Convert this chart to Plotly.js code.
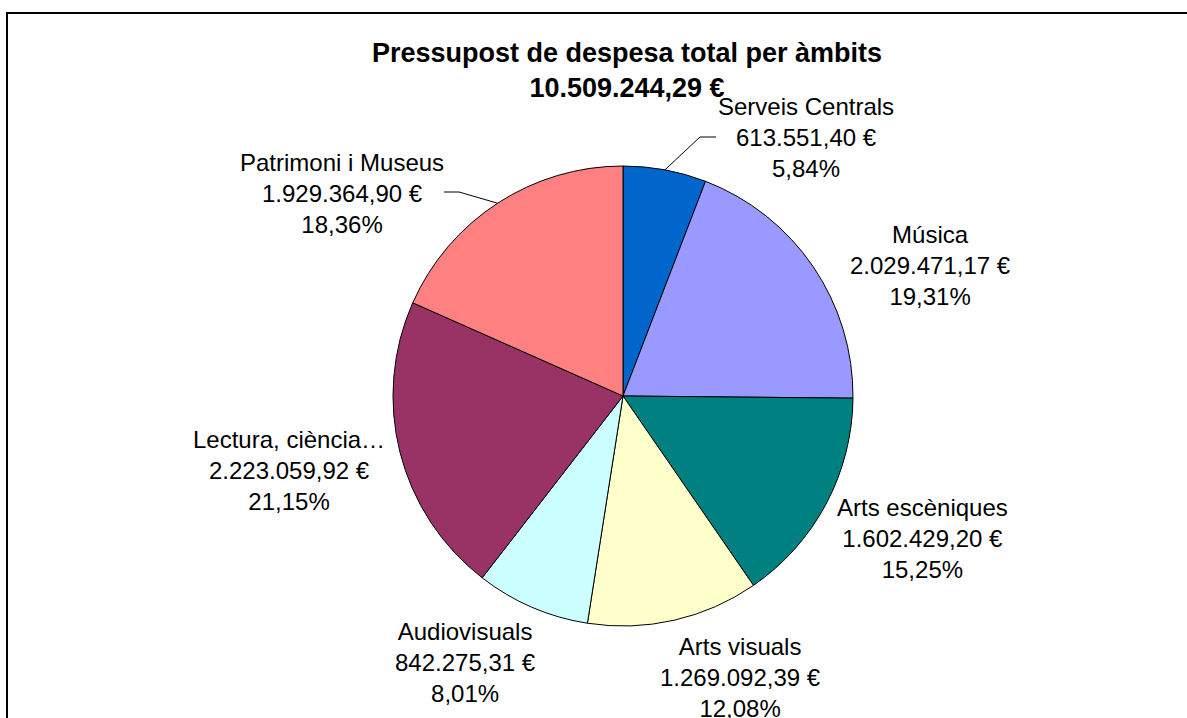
<!DOCTYPE html>
<html>
<head>
<meta charset="utf-8">
<script src="https://cdn.plot.ly/plotly-3.0.1.min.js"></script>
<style>html,body{margin:0;padding:0;background:#fff;}#chart{width:1187px;height:718px;}</style>
</head>
<body>
<div id="chart"></div>
<script>
// ---- data ----
const categories = ["Serveis Centrals", "Música", "Arts escèniques", "Arts visuals", "Audiovisuals", "Lectura, ciència…", "Patrimoni i Museus"];
const values = [613551.40, 2029471.17, 1602429.20, 1269092.39, 842275.31, 2223059.92, 1929364.90];
const colors = ["#0066CC", "#9999FF", "#008080", "#FFFFCC", "#CCFFFF", "#993366", "#FF8080"];
const chartTitle = "Pressupost de despesa total per àmbits";

// ---- layout config (pixels) ----
const W = 1187, H = 718;
const pieCenter = [623, 396], pieR = 230;
// label centre (middle line) positions
const labelPos = [[806, 137], [930, 266], [922, 538], [740, 677], [465, 662], [289, 470], [342, 194]];
// leader lines: index -> [elbow, end]
const leaders = {0: [[700, 137], [716, 137]], 6: [[459, 192], [444, 192]]};

const total = values.reduce((a, b) => a + b, 0);
function fmt(v, dec) {
  const s = v.toFixed(dec);
  let [ip, dp] = s.split('.');
  ip = ip.replace(/\B(?=(\d{3})+(?!\d))/g, '.');
  return dp !== undefined ? ip + ',' + dp : ip;
}
const px = x => x / W, py = y => 1 - y / H;

const font = {family: "Liberation Sans, Arial, sans-serif", size: 24, color: "#000"};
const annotations = categories.map((c, i) => ({
  xref: 'paper', yref: 'paper', x: px(labelPos[i][0]), y: py(labelPos[i][1]),
  xanchor: 'center', yanchor: 'middle', showarrow: false, align: 'center',
  text: c + '<br>' + fmt(values[i], 2) + ' €<br>' + fmt(values[i] / total * 100, 2) + '%',
  font: font
}));

const shapes = [{
  type: 'rect', xref: 'paper', yref: 'paper', x0: px(7), x1: 1.02, y0: -0.02, y1: py(13),
  line: {color: '#000', width: 2}, fillcolor: 'rgba(0,0,0,0)'
}];
let cum = 0;
const mids = values.map(v => { const m = cum + v / 2; cum += v; return m / total * 2 * Math.PI; });
Object.keys(leaders).forEach(k => {
  const i = +k, a = mids[i];
  const ex = pieCenter[0] + pieR * Math.sin(a), ey = pieCenter[1] - pieR * Math.cos(a);
  const [e1, e2] = leaders[k];
  shapes.push({type: 'line', xref: 'paper', yref: 'paper', x0: px(ex), y0: py(ey), x1: px(e1[0]), y1: py(e1[1]), line: {color: '#000', width: 1}});
  shapes.push({type: 'line', xref: 'paper', yref: 'paper', x0: px(e1[0]), y0: py(e1[1]), x1: px(e2[0]), y1: py(e2[1]), line: {color: '#000', width: 1}});
});

const trace = {
  type: 'pie', labels: categories, values: values, sort: false, direction: 'clockwise', rotation: 0,
  marker: {colors: colors, line: {color: '#000', width: 1}},
  textinfo: 'none', hoverinfo: 'label+value+percent',
  domain: {x: [px(pieCenter[0] - pieR), px(pieCenter[0] + pieR)], y: [py(pieCenter[1] + pieR), py(pieCenter[1] - pieR)]}
};

const layout = {
  width: W, height: H, margin: {l: 0, r: 0, t: 0, b: 0},
  paper_bgcolor: '#fff', showlegend: false,
  title: {
    text: '<b>' + chartTitle + '</b><br><b>' + fmt(total, 2) + ' €</b>',
    x: px(627), xanchor: 'center', y: py(61.5), yanchor: 'middle', yref: 'container',
    font: {family: "Liberation Sans, Arial, sans-serif", size: 27, color: '#000'}
  },
  annotations: annotations, shapes: shapes
};
Plotly.newPlot('chart', [trace], layout, {displayModeBar: false, staticPlot: true});
</script>
</body>
</html>
